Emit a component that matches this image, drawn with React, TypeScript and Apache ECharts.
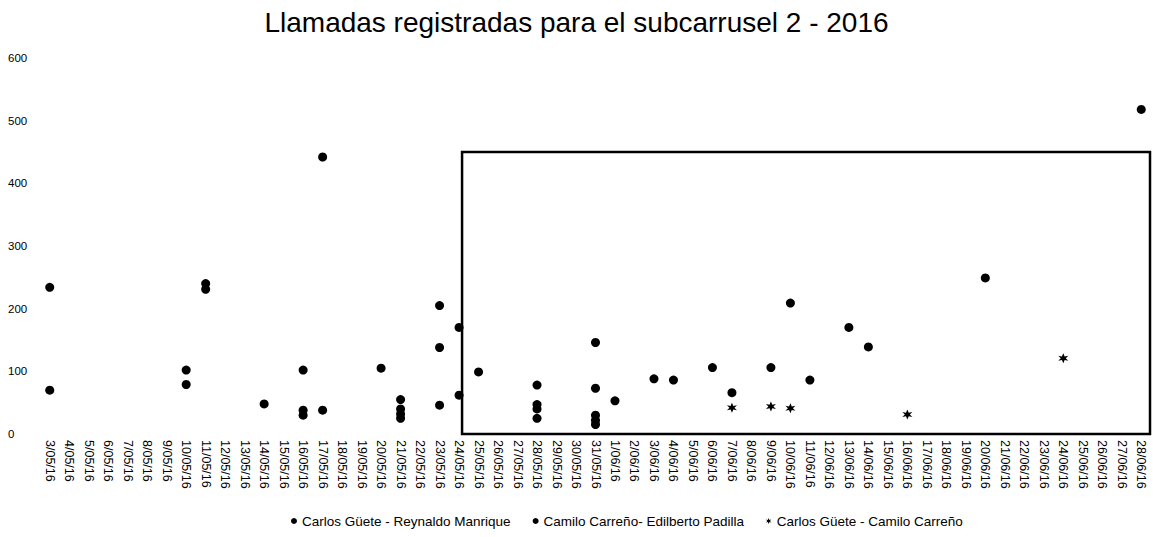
import React, { useEffect, useRef } from "react";
import * as echarts from "echarts";

const days: string[] = [
  "3/05/16", "4/05/16", "5/05/16", "6/05/16", "7/05/16", "8/05/16", "9/05/16", "10/05/16",
  "11/05/16", "12/05/16", "13/05/16", "14/05/16", "15/05/16", "16/05/16", "17/05/16", "18/05/16",
  "19/05/16", "20/05/16", "21/05/16", "22/05/16", "23/05/16", "24/05/16", "25/05/16", "26/05/16",
  "27/05/16", "28/05/16", "29/05/16", "30/05/16", "31/05/16", "1/06/16", "2/06/16", "3/06/16",
  "4/06/16", "5/06/16", "6/06/16", "7/06/16", "8/06/16", "9/06/16", "10/06/16", "11/06/16",
  "12/06/16", "13/06/16", "14/06/16", "15/06/16", "16/06/16", "17/06/16", "18/06/16", "19/06/16",
  "20/06/16", "21/06/16", "22/06/16", "23/06/16", "24/06/16", "25/06/16", "26/06/16", "27/06/16",
  "28/06/16",
];

const seriesNames: string[] = [
  "Carlos Güete - Reynaldo Manrique",
  "Camilo Carreño- Edilberto Padilla",
  "Carlos Güete - Camilo Carreño",
];

const guetesManrique: [string, number][] = [
  ["3/05/16", 234], ["10/05/16", 102], ["11/05/16", 240], ["14/05/16", 48], ["16/05/16", 102],
  ["17/05/16", 442], ["20/05/16", 105], ["21/05/16", 55], ["23/05/16", 205], ["24/05/16", 170],
  ["25/05/16", 99], ["28/05/16", 78], ["31/05/16", 146], ["1/06/16", 53], ["3/06/16", 88],
  ["4/06/16", 86], ["6/06/16", 106], ["7/06/16", 66], ["9/06/16", 106], ["10/06/16", 209],
  ["11/06/16", 86], ["13/06/16", 170], ["14/06/16", 139], ["20/06/16", 249], ["28/06/16", 518],
];

const carrenoPadilla: [string, number][] = [
  ["3/05/16", 70], ["10/05/16", 79], ["11/05/16", 231], ["16/05/16", 38], ["16/05/16", 30],
  ["17/05/16", 38], ["21/05/16", 40], ["21/05/16", 32], ["21/05/16", 25], ["23/05/16", 138],
  ["23/05/16", 46], ["24/05/16", 62], ["28/05/16", 47], ["28/05/16", 40], ["28/05/16", 25],
  ["31/05/16", 73], ["31/05/16", 30], ["31/05/16", 22], ["31/05/16", 15],
];

const guetesCarreno: [string, number][] = [
  ["7/06/16", 42], ["9/06/16", 44], ["10/06/16", 41], ["16/06/16", 31], ["24/06/16", 121],
];

const yTicks = { min: 0, max: 600, interval: 100 };
const boxRange = { from: "24/05/16", top: 450, bottom: 0 };

const STAR =
  "path://M0,-10 L2.5,-3.5 L9,-5 L4.5,0 L9,5 L2.5,3.5 L0,10 L-2.5,3.5 L-9,5 L-4.5,0 L-9,-5 L-2.5,-3.5 Z";

export default function App() {
  const ref = useRef<HTMLDivElement>(null);
  useEffect(() => {
    if (!ref.current) return;
    const chart = echarts.init(ref.current, null, { renderer: "svg" });
    const font = "Liberation Sans, Arial, sans-serif";
    const gridLeft = 40;
    const gridRight = 2;
    chart.setOption({
      animation: false,
      backgroundColor: "#ffffff",
      textStyle: { fontFamily: font, color: "#000" },
      title: {
        text: "Llamadas registradas para el subcarrusel 2 - 2016",
        left: "center",
        top: 3,
        textStyle: { fontFamily: font, fontSize: 28, fontWeight: "normal", color: "#000" },
      },
      legend: {
        bottom: 4,
        left: 286,
        itemWidth: 6,
        itemHeight: 6,
        itemGap: 22,
        textStyle: { fontFamily: font, fontSize: 13.5, color: "#000" },
        data: [
          { name: seriesNames[0], icon: "circle" },
          { name: seriesNames[1], icon: "circle" },
          { name: seriesNames[2], icon: STAR },
        ],
      },
      grid: { left: gridLeft, right: gridRight, top: 58, bottom: 103, containLabel: false },
      xAxis: {
        type: "category",
        data: days,
        boundaryGap: true,
        axisLine: { show: false },
        axisTick: { show: false },
        axisLabel: {
          interval: 0,
          rotate: -90,
          fontSize: 12.5,
          color: "#000",
          fontFamily: font,
          margin: 6,
        },
        splitLine: { show: false },
      },
      yAxis: {
        type: "value",
        min: yTicks.min,
        max: yTicks.max,
        interval: yTicks.interval,
        axisLine: { show: false },
        axisTick: { show: false },
        splitLine: { show: false },
        axisLabel: { fontSize: 11.5, color: "#000", fontFamily: font, margin: 32, align: "left" },
      },
      series: [
        {
          name: seriesNames[0],
          type: "scatter",
          symbol: "circle",
          symbolSize: 9,
          itemStyle: { color: "#000", opacity: 1 },
          data: guetesManrique,
        },
        {
          name: seriesNames[1],
          type: "scatter",
          symbol: "circle",
          symbolSize: 9,
          itemStyle: { color: "#000", opacity: 1 },
          data: carrenoPadilla,
        },
        {
          name: seriesNames[2],
          type: "scatter",
          symbol: STAR,
          symbolSize: 10,
          itemStyle: { color: "#000", opacity: 1 },
          data: guetesCarreno,
        },
      ],
    });
    // Box annotation: from the 24/05 category to the right edge of the plot, 0..450
    const p1 = chart.convertToPixel({ gridIndex: 0 }, [boxRange.from, boxRange.top]) as number[];
    const p2 = chart.convertToPixel({ gridIndex: 0 }, [boxRange.from, boxRange.bottom]) as number[];
    const rightEdge = chart.getWidth() - gridRight - 1;
    chart.setOption({
      graphic: [
        {
          type: "rect",
          silent: true,
          z: 1,
          shape: { x: p1[0] + 3, y: p1[1], width: rightEdge - p1[0] - 3, height: p2[1] - p1[1] },
          style: { fill: "none", stroke: "#000", lineWidth: 2.5 },
        },
      ],
    });
    return () => chart.dispose();
  }, []);
  return (
    <div
      ref={ref}
      style={{ position: "fixed", left: 0, top: 0, width: 1153, height: 537, background: "#fff" }}
    />
  );
}
